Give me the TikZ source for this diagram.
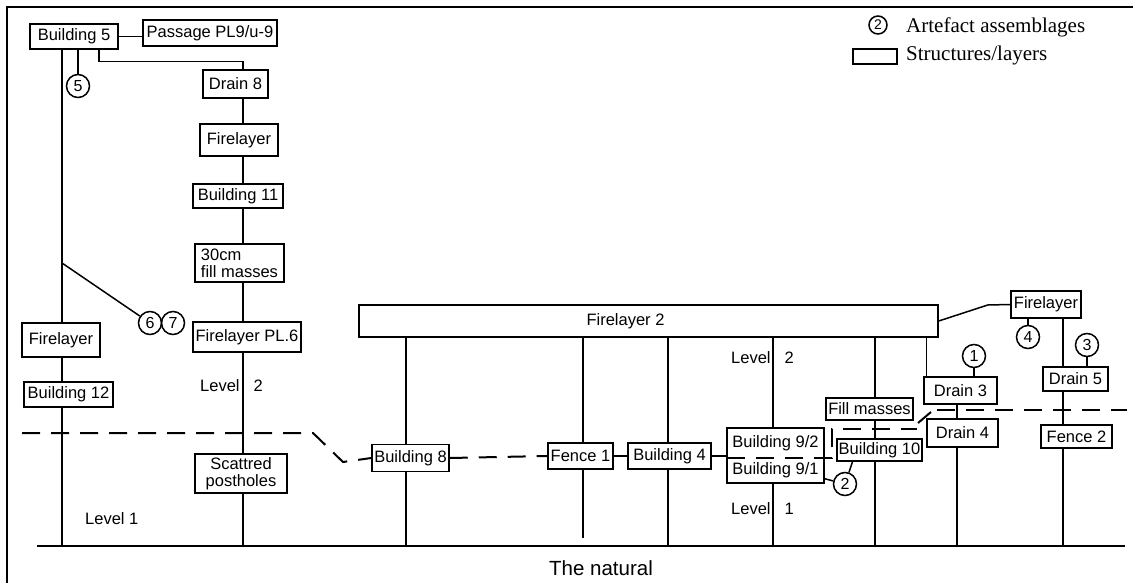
\documentclass[tikz,border=0pt]{standalone}
\usepackage{fontspec}
\setmainfont{Liberation Sans}
\newfontfamily\legendfont{Liberation Serif}
\usetikzlibrary{positioning,calc}

\begin{document}
\begin{tikzpicture}[x=1pt, y=-1pt,
    layerbox/.style={draw, line width=1.5pt, inner sep=0pt, align=center,
      font=\fontsize{16.5}{17}\selectfont},
    findcirc/.style={circle, draw, line width=1.5pt, inner sep=0pt, minimum size=23pt,
      font=\fontsize{16}{16}\selectfont},
    link/.style={line width=1.5pt},
    horizon/.style={line width=2pt, dash pattern=on 18pt off 11pt},
    lbl/.style={inner sep=0pt, font=\fontsize{16.5}{17}\selectfont}]
      \useasboundingbox (0,0) rectangle (1133,583);
      % Scan frame (left and top edges only)
      \draw[line width=1.5pt] (7,583) -- (7,7) -- (1133,7);
      % Legend
      \node[findcirc, minimum size=18pt, font=\fontsize{14}{14}\selectfont] (keyfind) at (878,25) {2};
      \node[anchor=west, inner sep=0pt, font=\legendfont\fontsize{21}{22}\selectfont] (keyfindtxt) at (906,27) {Artefact assemblages};
      \node[draw, line width=1.3pt, minimum width=44pt, minimum height=15pt, inner sep=0pt] (keybox) at (875,56.5) {};
      \node[anchor=west, inner sep=0pt, font=\legendfont\fontsize{21}{22}\selectfont] (keyboxtxt) at (906,55) {Structures/layers};
      % The natural and the column feet
      \coordinate (natW) at (37,546);
      \coordinate (natE) at (1125,546);
      \draw[line width=2.4pt] (natW) -- (natE);
      \node[font=\fontsize{20.5}{22}\selectfont] (natural) at (601,568) {The natural};
      \coordinate (kL) at (62,546);
      \coordinate (k2) at (243,546);
      \coordinate (k8) at (406,546);
      \coordinate (kF1) at (583,538);
      \coordinate (k4) at (668,546);
      \coordinate (k9) at (773,546);
      \coordinate (k10) at (875,546);
      \coordinate (kD) at (957,546);
      \coordinate (kF2) at (1063,546);
      % Left sequence
      \node[layerbox, minimum width=88pt, minimum height=25pt] (b5) at (74,36.5) {Building 5};
      \node[layerbox, minimum width=134pt, minimum height=26pt] (passage) at (210,33) {Passage PL9/u-9};
      \node[findcirc] (c5) at (78,86) {5};
      \node[layerbox, minimum width=78pt, minimum height=34pt] (fireL) at (61,340) {Firelayer};
      \node[layerbox, minimum width=89pt, minimum height=25pt] (b12) at (68.5,394.5) {Building 12};
      \node[findcirc] (c6) at (150,323) {6};
      \node[findcirc] (c7) at (173,323) {7};
      \node[layerbox, minimum width=65pt, minimum height=28pt] (drain8) at (235.5,84) {Drain 8};
      \node[layerbox, minimum width=78pt, minimum height=32pt] (fire1) at (239,140) {Firelayer};
      \node[layerbox, minimum width=90pt, minimum height=24pt] (b11) at (238,196) {Building 11};
      \node[layerbox, minimum width=89pt, minimum height=38pt, align=left] (fill30) at (239.5,263) {30cm\\fill masses};
      \node[layerbox, minimum width=108pt, minimum height=30pt] (firePL6) at (247,337) {Firelayer PL.6};
      \node[layerbox, minimum width=92pt, minimum height=39pt] (scatt) at (241,473.5) {Scattred\\postholes};
      \node[lbl, anchor=west] (lev2L) at (200,386) {Level\hspace{14pt}2};
      \node[lbl, anchor=west] (lev1L) at (85,519) {Level 1};
      % Firelayer 2 and what lies under it
      \node[layerbox, minimum width=579pt, minimum height=32pt] (fire2) at (648.5,321) {Firelayer 2\hspace*{46pt}};
      \node[layerbox, minimum width=77pt, minimum height=27pt] (b8) at (410.5,458) {Building 8};
      \node[layerbox, minimum width=65pt, minimum height=26pt] (fence1) at (580.5,456) {Fence 1};
      \node[layerbox, minimum width=83pt, minimum height=26pt] (b4) at (669.5,456) {Building 4};
      \node[layerbox, minimum width=97pt, minimum height=55pt] (b9) at (775.5,455.5) {};
      \node[lbl] (b92) at (775.5,443) {Building 9/2};
      \node[lbl] (b91) at (775.5,470) {Building 9/1};
      \node[layerbox, minimum width=87pt, minimum height=22pt] (fillm) at (869.5,409) {Fill masses};
      \node[layerbox, minimum width=85pt, minimum height=22pt] (b10) at (879.5,450) {Building 10};
      \node[findcirc] (c2) at (845,484) {2};
      \node[layerbox, minimum width=73pt, minimum height=27pt] (drain3) at (960.5,390.5) {Drain 3};
      \node[layerbox, minimum width=71pt, minimum height=28pt] (drain4) at (962.5,433) {Drain 4};
      \node[findcirc] (c1) at (974,356) {1};
      \node[layerbox, minimum width=70pt, minimum height=27pt] (fireR) at (1046,304.5) {Firelayer};
      \node[findcirc] (c4) at (1028,337) {4};
      \node[findcirc] (c3) at (1087,345) {3};
      \node[layerbox, minimum width=65pt, minimum height=24pt] (drain5) at (1075.5,379) {Drain 5};
      \node[layerbox, minimum width=71pt, minimum height=23pt] (fence2) at (1076.5,436.5) {Fence 2};
      \node[lbl, anchor=west] (lev2R) at (731,358) {Level\hspace{14pt}2};
      \node[lbl, anchor=west] (lev1R) at (731,509) {Level\hspace{14pt}1};
      % Links, left part
      \draw[link] (b5.east) -- (b5.east -| passage.west);
      \draw[link] (b5.south -| c5) -- (c5);
      \draw[link] ([xshift=25pt]b5.south) -- ++(0,12) -| (drain8.north -| k2);
      \draw[link] (b5.south -| kL) -- (fireL.north -| kL);
      \draw[link] (fireL.south -| kL) -- (b12.north -| kL);
      \draw[link] (b12.south -| kL) -- (kL);
      \coordinate (fork) at (62,263);
      \draw[link] (fork) -- (c6);
      \foreach \a/\b in {drain8/fire1, fire1/b11, b11/fill30, fill30/firePL6, firePL6/scatt}
        \draw[link] (\a.south -| k2) -- (\b.north -| k2);
      \draw[link] (scatt.south -| k2) -- (k2);
      % Links under Firelayer 2
      \foreach \n/\k in {b8/k8, fence1/kF1, b4/k4, b9/k9}{
        \draw[link] (fire2.south -| \k) -- (\n.north -| \k);
        \draw[link] (\n.south -| \k) -- (\k);
      }
      \draw[link] (fire2.south -| k10) -- (fillm.north -| k10);
      \draw[link] (fillm.south -| k10) -- (b10.north -| k10);
      \draw[link] (b10.south -| k10) -- (k10);
      \draw[link] ([xshift=-27pt]b10.south) -- (c2);
      \draw[link] ([yshift=5pt]b9.south east) -- (c2);
      \draw[link] ([xshift=3pt]drain3.north west) -- ++(0,-40);
      \draw[link] (c1) -- (c1 |- drain3.north);
      \draw[link] (drain3.south -| kD) -- (drain4.north -| kD);
      \draw[link] (drain4.south -| kD) -- (kD);
      % Links, right part
      \draw[link] (fire2.east) -- ++(49,-16) -- (fireR.west);
      \draw[link] (fireR.south -| c4) -- (c4);
      \draw[link] (fireR.south -| kF2) -- (drain5.north -| kF2);
      \draw[link] (c3) -- (c3 |- drain5.north);
      \draw[link] (drain5.south -| kF2) -- (fence2.north -| kF2);
      \draw[link] (fence2.south -| kF2) -- (kF2);
      % Level 1 / Level 2 boundary
      \coordinate (lvlW) at (22,433);
      \coordinate (lvlE) at (1127,410);
      \draw[horizon] (lvlW) -- (313,433) -- (343,462) -- (b8.west);
      \draw[horizon] (b8.east) -- (fence1.west);
      \draw[link] (fence1.east) -- (b4.west);
      \draw[horizon] (b4.east) -- (b4.east -| b9.west);
      \draw[horizon] (727,458) -- (832,458) -- (832,429) -- (917,429);
      \draw[line width=2pt] (918,423) -- (931,412);
      \draw[horizon] (937,410) -- (lvlE);
    \end{tikzpicture}
\end{document}
